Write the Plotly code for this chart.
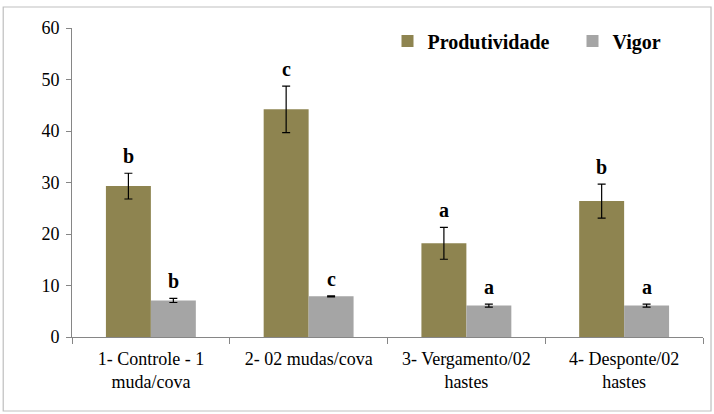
import plotly.graph_objects as go

categories = ["1- Controle - 1<br>muda/cova", "2- 02 mudas/cova",
              "3- Vergamento/02<br>hastes", "4- Desponte/02<br>hastes"]
produtividade = [29.3, 44.2, 18.2, 26.4]
produtividade_err = [2.5, 4.5, 3.1, 3.3]
vigor = [7.1, 7.9, 6.1, 6.1]
vigor_err = [0.4, 0.1, 0.3, 0.3]
letters_prod = ["b", "c", "a", "b"]
letters_vig = ["b", "c", "a", "a"]
y_ticks = [0, 10, 20, 30, 40, 50, 60]

OLIVE = "#8E8450"
GRAY = "#A5A5A5"
FONT = "Liberation Serif"

fig = go.Figure()
fig.add_trace(go.Bar(
    name="<b>Produtividade</b>", x=categories, y=produtividade, marker_color=OLIVE,
    marker_line_width=0,
    error_y=dict(type="data", array=produtividade_err, color="black", thickness=1.2, width=4),
))
fig.add_trace(go.Bar(
    name="<b>Vigor</b>", x=categories, y=vigor, marker_color=GRAY,
    marker_line_width=0,
    error_y=dict(type="data", array=vigor_err, color="black", thickness=1.2, width=4),
))

# significance letters above the error bars
bar_w = 0.285
for i, cat in enumerate(categories):
    for vals, errs, lets, side in ((produtividade, produtividade_err, letters_prod, -1),
                                   (vigor, vigor_err, letters_vig, 1)):
        fig.add_annotation(
            x=i + side * bar_w / 2, y=vals[i] + errs[i], xref="x", yref="y",
            text="<b>%s</b>" % lets[i], showarrow=False, yanchor="bottom",
            yshift=4, font=dict(family=FONT, size=20, color="black"),
        )

fig.update_layout(
    width=714, height=414,
    margin=dict(l=72, r=11, t=28, b=77, autoexpand=False),
    paper_bgcolor="white", plot_bgcolor="white",
    barmode="group", bargap=0.43, bargroupgap=0,
    font=dict(family=FONT, size=18, color="black"),
    showlegend=True,
    legend=dict(orientation="h", x=0.5, xanchor="left", y=0.958, yanchor="middle",
                font=dict(family=FONT, size=20, color="black"),
                itemwidth=30, entrywidth=140,
                bgcolor="rgba(0,0,0,0)"),
    xaxis=dict(
        type="category", range=[-0.5, 3.5], automargin=False, tickangle=0,
        showline=True, linecolor="#868686", linewidth=1,
        ticks="outside", tickson="boundaries", ticklen=6, tickcolor="#868686",
        ticklabelstandoff=5,
        tickfont=dict(family=FONT, size=18, color="black"),
        showgrid=False,
    ),
    yaxis=dict(
        range=[0, 60], tickvals=y_ticks, ticktext=[str(t) for t in y_ticks],
        automargin=False,
        showline=True, linecolor="#868686", linewidth=1,
        ticks="outside", ticklen=5, tickcolor="#868686",
        ticklabelstandoff=3,
        tickfont=dict(family=FONT, size=18, color="black"),
        showgrid=False, zeroline=False,
    ),
    shapes=[dict(type="rect", xref="paper", yref="paper",
                 x0=-0.109, x1=1.0127, y0=-0.2395, y1=1.068,
                 line=dict(color="#BFBFBF", width=1.2), fillcolor="rgba(0,0,0,0)",
                 layer="below")],
)

fig.write_html("out.html")
